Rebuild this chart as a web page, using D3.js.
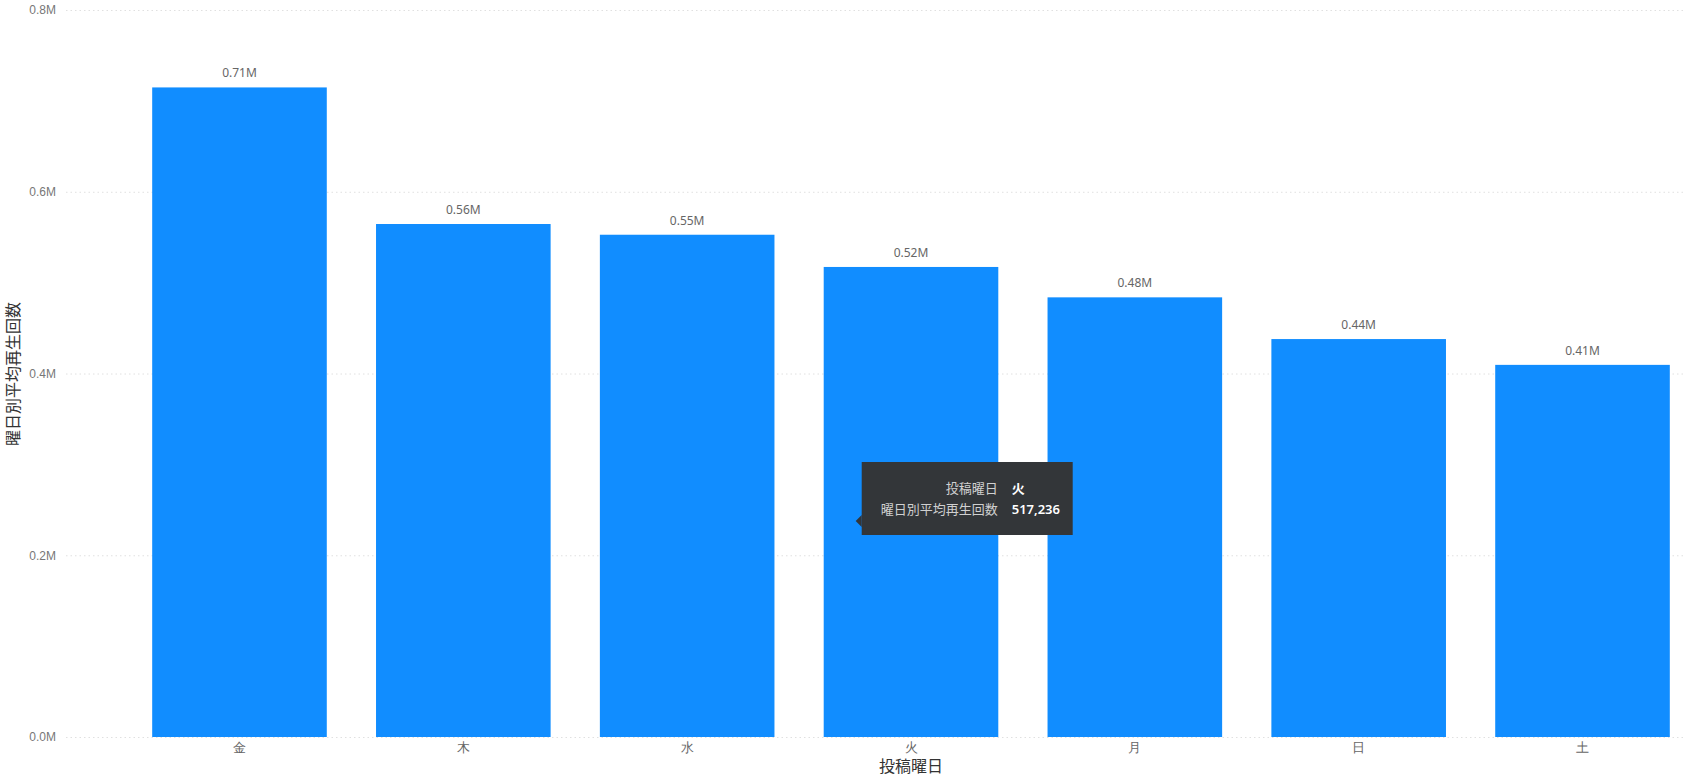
<!DOCTYPE html>
<html>
<head>
<meta charset="utf-8">
<script src="https://cdn.jsdelivr.net/npm/d3@7"></script>
<style>
  body { margin: 0; background: #fff; }
  svg { font-family: "Segoe UI", "Noto Sans", "Noto Sans CJK JP", sans-serif; }
</style>
</head>
<body>
<svg id="chart" width="1684" height="778"></svg>
<script>
const days = ["金", "木", "水", "火", "月", "日", "土"];
const avgPlays = [714800, 564500, 552700, 517236, 483800, 437900, 409500];
const yTicks = [0, 200000, 400000, 600000, 800000];

const hoverDay = "火";

const svg = d3.select("#chart"),
    width = +svg.attr("width"),
    height = +svg.attr("height");

const x = d3.scaleBand()
    .domain(days)
    .range([141, 1681])
    .paddingInner(0.22)
    .paddingOuter(0.05);

const y = d3.scaleLinear().domain([0, 800000]).range([737, 10]);

const fmtTick = d => (d / 1e6).toFixed(1) + "M";
const fmtLabel = d => (d / 1e6).toFixed(2) + "M";

// gridlines
svg.append("g")
    .selectAll("line")
    .data(yTicks)
    .join("line")
    .attr("x1", 66).attr("x2", width)
    .attr("y1", d => y(d) + 0.5).attr("y2", d => y(d) + 0.5)
    .attr("stroke", "#e0e0e0")
    .attr("stroke-dasharray", "1.5,3");

// y axis
const yAxis = svg.append("g")
    .attr("transform", "translate(56,0)")
    .call(d3.axisLeft(y).tickValues(yTicks).tickFormat(fmtTick).tickSize(0).tickPadding(0));
yAxis.select(".domain").remove();
yAxis.selectAll("text").attr("fill", "#777").attr("font-size", 12);

// bars
svg.append("g")
    .selectAll("rect")
    .data(days)
    .join("rect")
    .attr("x", d => x(d))
    .attr("width", x.bandwidth())
    .attr("y", (d, i) => y(avgPlays[i]))
    .attr("height", (d, i) => y(0) - y(avgPlays[i]))
    .attr("fill", "#118DFF");

// data labels
svg.append("g")
    .selectAll("text")
    .data(days)
    .join("text")
    .attr("x", d => x(d) + x.bandwidth() / 2)
    .attr("y", (d, i) => y(avgPlays[i]) - 10)
    .attr("text-anchor", "middle")
    .attr("fill", "#666")
    .attr("font-size", 12)
    .text((d, i) => fmtLabel(avgPlays[i]));

// x axis
const xAxis = svg.append("g")
    .attr("transform", "translate(0,737)")
    .call(d3.axisBottom(x).tickSize(0).tickPadding(6));
xAxis.select(".domain").remove();
xAxis.selectAll("text").attr("fill", "#666").attr("font-size", 13);

// axis titles
svg.append("text")
    .attr("x", (x(days[0]) + x(days[6]) + x.bandwidth()) / 2)
    .attr("y", 772)
    .attr("text-anchor", "middle")
    .attr("fill", "#333")
    .attr("font-size", 16)
    .text("投稿曜日");

svg.append("text")
    .attr("transform", "translate(19,374) rotate(-90)")
    .attr("text-anchor", "middle")
    .attr("fill", "#333")
    .attr("font-size", 16)
    .text("曜日別平均再生回数");

// tooltip
const hi = days.indexOf(hoverDay);
const tx = x(hoverDay) + 38, ty = 462;
const tip = svg.append("g").attr("transform", `translate(${tx},${ty})`);
tip.append("rect")
    .attr("width", 211).attr("height", 73)
    .attr("fill", "#333639");
tip.append("path")
    .attr("d", "M0,53 L-6,59 L0,65 Z")
    .attr("fill", "#333639");
const rows = [["投稿曜日", hoverDay], ["曜日別平均再生回数", d3.format(",")(avgPlays[hi])]];
rows.forEach((r, i) => {
    tip.append("text")
        .attr("x", 136).attr("y", 31 + i * 21)
        .attr("text-anchor", "end")
        .attr("fill", "#d0d0d0")
        .attr("font-size", 13)
        .text(r[0]);
    tip.append("text")
        .attr("x", 150).attr("y", 31 + i * 21)
        .attr("fill", "#fff")
        .attr("font-size", 13)
        .attr("font-weight", 600)
        .text(r[1]);
});
</script>
</body>
</html>
